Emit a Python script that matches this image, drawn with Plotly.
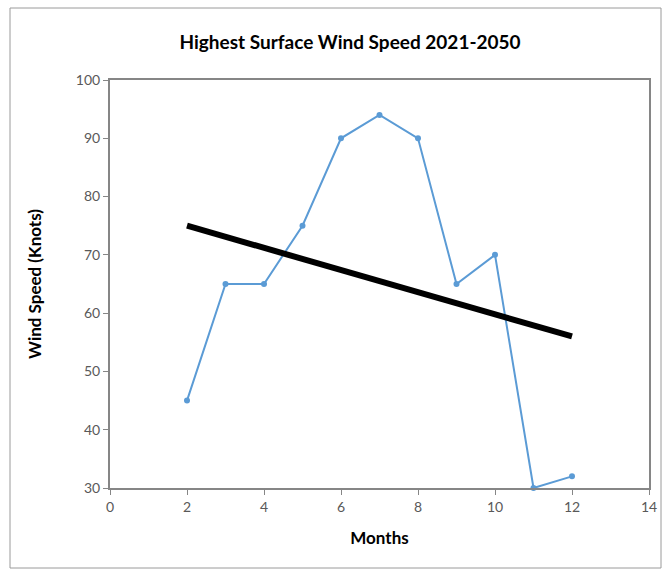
import plotly.graph_objects as go

months = [2, 3, 4, 5, 6, 7, 8, 9, 10, 11, 12]
wind_speed = [45, 65, 65, 75, 90, 94, 90, 65, 70, 30, 32]
trend_x = [2, 12]
trend_y = [75, 56]

title_text = "Highest Surface Wind Speed 2021-2050"
x_title = "Months"
y_title = "Wind Speed (Knots)"

FONT = "Lato, Carlito, 'Liberation Sans', sans-serif"
axis_col = "#868686"

fig = go.Figure()
fig.add_trace(go.Scatter(
    x=months, y=wind_speed, mode="lines+markers",
    line=dict(color="#5B9BD5", width=2),
    marker=dict(color="#5B9BD5", size=6),
    showlegend=False, cliponaxis=False))
fig.add_trace(go.Scatter(
    x=trend_x, y=trend_y, mode="lines",
    line=dict(color="black", width=6),
    showlegend=False))

fig.update_layout(
    width=669, height=571,
    margin=dict(l=110, r=20, t=80, b=83),
    paper_bgcolor="white", plot_bgcolor="white",
    font=dict(family=FONT, color="#595959", size=14),
    title=dict(text="<b>" + title_text + "</b>", x=350/669, xanchor="center",
               y=1 - 42/571, yanchor="middle",
               font=dict(family=FONT, size=19, color="black")),
    shapes=[dict(type="rect", xref="paper", yref="paper",
                 x0=-100/539, x1=1 + 12/539, y0=-80/408, y1=1 + 72/408,
                 line=dict(color="#9a9a9a", width=1), layer="below")],
)
fig.update_xaxes(
    range=[0, 14], tickmode="linear", tick0=0, dtick=2,
    showgrid=False, zeroline=False, showline=True, linecolor=axis_col, linewidth=2,
    mirror=True, ticks="outside", ticklen=5, tickcolor=axis_col,
    title=dict(text="<b>" + x_title + "</b>", font=dict(size=17, color="black"), standoff=18),
)
fig.update_yaxes(
    range=[30, 100], tickmode="linear", tick0=30, dtick=10,
    showgrid=False, zeroline=False, showline=True, linecolor=axis_col, linewidth=2,
    mirror=True, ticks="outside", ticklen=5, tickcolor=axis_col,
    title=dict(text="<b>" + y_title + "</b>", font=dict(size=17, color="black"), standoff=30),
)

fig.write_html("out.html")
